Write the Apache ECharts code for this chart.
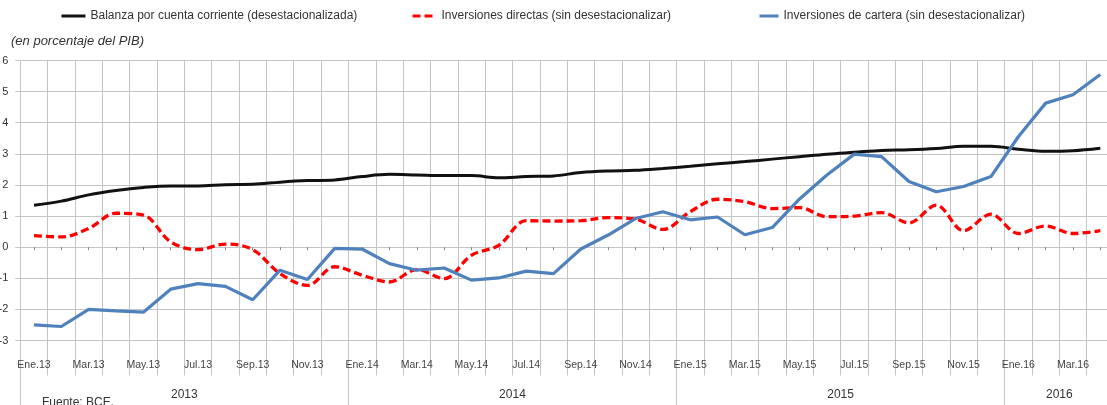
<!DOCTYPE html>
<html>
<head>
<meta charset="utf-8">
<script src="https://cdn.jsdelivr.net/npm/echarts@6/dist/echarts.min.js"></script>
<style>
html,body{margin:0;padding:0;background:#fff;}
#chart{width:1107px;height:405px;}
</style>
</head>
<body>
<div id="chart"></div>
<script>
const months = ['Ene.13','Feb.13','Mar.13','Abr.13','May.13','Jun.13','Jul.13','Ago.13','Sep.13','Oct.13','Nov.13','Dic.13',
  'Ene.14','Feb.14','Mar.14','Abr.14','May.14','Jun.14','Jul.14','Ago.14','Sep.14','Oct.14','Nov.14','Dic.14',
  'Ene.15','Feb.15','Mar.15','Abr.15','May.15','Jun.15','Jul.15','Ago.15','Sep.15','Oct.15','Nov.15','Dic.15',
  'Ene.16','Feb.16','Mar.16','Abr.16'];
const years = ['2013','2014','2015','2016'];
const monthsPerYear = [12,12,12,4];
const yTicks = {min:-3, max:6, interval:1};

const balanza = [1.35,1.48,1.68,1.82,1.92,1.97,1.97,2.01,2.02,2.09,2.14,2.16,
  2.27,2.34,2.32,2.30,2.30,2.23,2.27,2.29,2.40,2.45,2.47,2.53,
  2.60,2.68,2.75,2.83,2.91,2.99,3.05,3.11,3.13,3.17,3.24,3.24,
  3.15,3.08,3.10,3.18];
const directas = [0.37,0.33,0.60,1.09,1.03,0.17,-0.08,0.10,-0.08,-0.85,-1.23,-0.63,
  -0.90,-1.12,-0.72,-1.01,-0.26,0.06,0.85,0.84,0.85,0.95,0.90,0.57,
  1.14,1.54,1.46,1.24,1.27,0.98,1.00,1.11,0.78,1.35,0.53,1.06,
  0.44,0.68,0.44,0.53];
const cartera = [-2.50,-2.55,-2.00,-2.05,-2.09,-1.35,-1.17,-1.26,-1.69,-0.74,-1.04,-0.04,
  -0.06,-0.53,-0.74,-0.67,-1.06,-0.99,-0.77,-0.85,-0.06,0.39,0.92,1.14,
  0.88,0.97,0.40,0.63,1.55,2.32,2.99,2.91,2.11,1.78,1.95,2.27,
  3.55,4.63,4.90,5.55];

const names = ['Balanza por cuenta corriente (desestacionalizada)',
  'Inversiones directas (sin desestacionalizar)',
  'Inversiones de cartera (sin desestacionalizar)'];

// half-month slots for the year axis: boundaries and year centres
const nSlots = months.length * 2 + 1;
const yearSlots = new Array(nSlots).fill('');
const yearBounds = [];
let start = 0;
for (let i = 0; i < years.length; i++) {
  yearBounds.push(start * 2);
  yearSlots[start * 2 + monthsPerYear[i]] = years[i];
  start += monthsPerYear[i];
}

const grid = '#c4c4c4';
const font = "'Liberation Sans', Arial, sans-serif";
const legendBase = {top: 10, padding: 0, itemHeight: 14,
  itemStyle: {opacity: 0}, lineStyle: {width: 3},
  textStyle: {fontSize: 12, color: '#333', fontFamily: font}};
const chart = echarts.init(document.getElementById('chart'));
chart.setOption({
  animation: false,
  textStyle: {fontFamily: font},
  title: [
    {text: '(en porcentaje del PIB)', left: 11, top: 35, padding: 0,
      textStyle: {fontStyle: 'italic', fontWeight: 'normal', fontSize: 13, color: '#333', fontFamily: font}},
    {text: 'Fuente: BCE.', left: 42, top: 397, padding: 0,
      textStyle: {fontWeight: 'normal', fontSize: 12, color: '#333', fontFamily: font}}
  ],
  legend: [
    Object.assign({data: [names[0]], left: 60, itemWidth: 24}, legendBase),
    Object.assign({data: [names[1]], left: 411, itemWidth: 24}, legendBase),
    Object.assign({data: [names[2]], left: 758, itemWidth: 19}, legendBase)
  ],
  grid: {left: 20.3, right: -7, top: 60.5, bottom: 64.5, containLabel: false, outerBoundsMode: 'none'},
  xAxis: [
    {type: 'category', data: months, boundaryGap: true, position: 'bottom',
      axisLine: {show: true, onZero: false, lineStyle: {color: grid, width: 1}},
      axisTick: {show: true, interval: 0, length: 35, lineStyle: {color: grid}},
      axisLabel: {interval: 1, fontSize: 10.5, margin: 19, color: '#444', fontFamily: font},
      splitLine: {show: true, interval: 0, lineStyle: {color: grid, width: 1}}},
    {type: 'category', data: months, boundaryGap: true, position: 'bottom',
      axisLine: {show: true, onZero: true, lineStyle: {color: grid, width: 1}},
      axisTick: {show: true, alignWithLabel: true, interval: 0, length: 3, lineStyle: {color: '#888'}},
      axisLabel: {show: false}, splitLine: {show: false}},
    {type: 'category', data: yearSlots, boundaryGap: false, position: 'bottom',
      axisLine: {show: false, onZero: false},
      axisTick: {show: true, length: 70, lineStyle: {color: grid},
        interval: function (idx) { return yearBounds.indexOf(idx) >= 0; }},
      axisLabel: {fontSize: 12, margin: 48, color: '#333', fontFamily: font,
        interval: function (idx, val) { return val !== ''; }},
      splitLine: {show: false}}
  ],
  yAxis: {
    type: 'value', min: yTicks.min, max: yTicks.max, interval: yTicks.interval,
    axisLine: {show: false},
    axisTick: {show: true, length: 5, lineStyle: {color: grid}},
    axisLabel: {fontSize: 11, margin: 12, color: '#333', fontFamily: font},
    splitLine: {show: true, lineStyle: {color: grid, width: 1}}
  },
  series: [
    {name: names[0], type: 'line', data: balanza, symbol: 'none', smooth: 0.35,
      lineStyle: {color: '#111', width: 3}, itemStyle: {color: '#111'}},
    {name: names[1], type: 'line', data: directas, symbol: 'none', smooth: 0.35,
      lineStyle: {color: '#ff0000', width: 3.3, type: [8, 4]}, itemStyle: {color: '#ff0000'}},
    {name: names[2], type: 'line', data: cartera, symbol: 'none', smooth: false,
      lineStyle: {color: '#4f81bd', width: 3.2}, itemStyle: {color: '#4f81bd'}}
  ]
});
</script>
</body>
</html>
